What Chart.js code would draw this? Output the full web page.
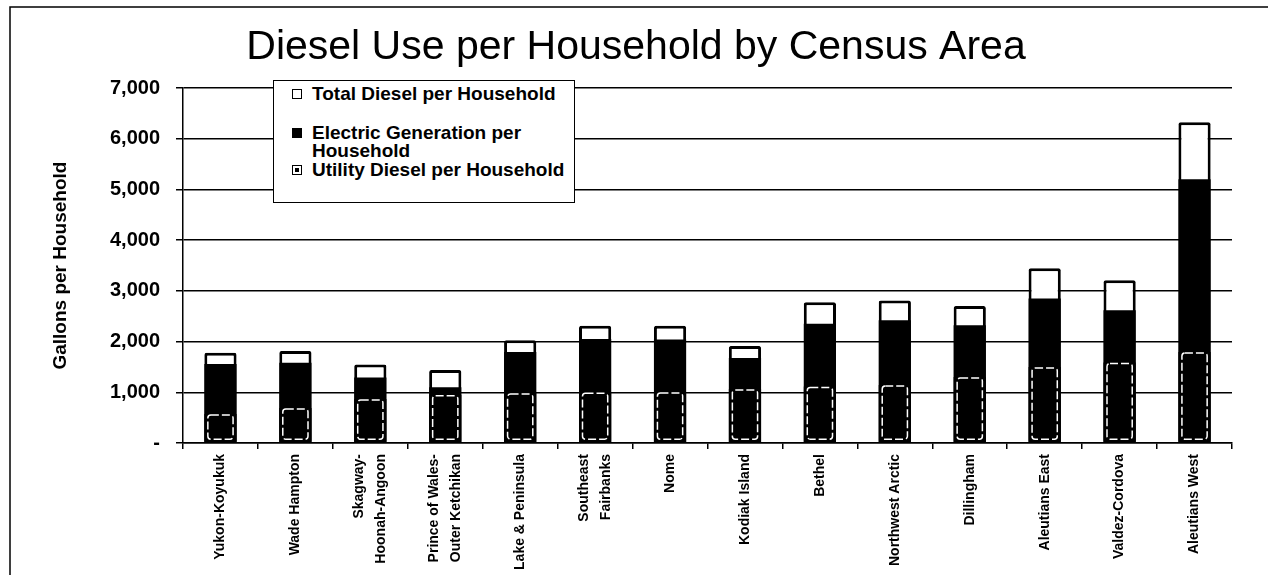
<!DOCTYPE html>
<html>
<head>
<meta charset="utf-8">
<script src="https://cdn.jsdelivr.net/npm/chart.js@4.4.1/dist/chart.umd.min.js"></script>
<style>
    body { margin: 0; background: #fff; }
    #wrap { position: relative; width: 1268px; height: 575px; }
    #legend {
        position: absolute; left: 273px; top: 80px; width: 300px; height: 121px;
        border: 1.5px solid #000; background: #fff;
        font: bold 19px 'Liberation Sans', Arial, sans-serif; color: #000;
    }
    #legend .row { position: absolute; left: 38px; line-height: 18px; white-space: nowrap; }
    #legend .box { position: absolute; left: -20px; top: 4px; width: 8px; height: 8px; border: 1.5px solid #000; background: #fff; }
    #legend .box.filled { background: #000; }
    #legend .box.inner::after { content: ''; position: absolute; left: 2px; top: 2px; width: 4px; height: 4px; background: #000; }
</style>
</head>
<body>
<div id="wrap">
    <canvas id="chart"></canvas>
    <div id="legend">
        <div class="row" style="top:4px"><span class="box"></span>Total Diesel per Household</div>
        <div class="row" style="top:43px"><span class="box filled"></span>Electric Generation per<br>Household</div>
        <div class="row" style="top:80px"><span class="box inner"></span>Utility Diesel per Household</div>
    </div>
</div>
<script>
// Datos (galones por hogar)
const censusAreas = [
    'Yukon-Koyukuk', 'Wade Hampton', ['Skagway-', 'Hoonah-Angoon'], ['Prince of Wales-', 'Outer Ketchikan'],
    'Lake & Peninsula', ['Southeast', 'Fairbanks'], 'Nome', 'Kodiak Island', 'Bethel',
    'Northwest Arctic', 'Dillingham', 'Aleutians East', 'Valdez-Cordova', 'Aleutians West'
];
const totalDiesel = [1780, 1815, 1550, 1440, 2025, 2315, 2315, 1915, 2778, 2812, 2700, 3445, 3208, 6325];
const electricGeneration = [1558, 1585, 1290, 1100, 1795, 2050, 2040, 1677, 2350, 2420, 2323, 2851, 2620, 5200];
const utilityDiesel = [570, 690, 870, 950, 985, 1000, 1005, 1063, 1115, 1143, 1300, 1500, 1590, 1795];
const yTicks = [0, 1000, 2000, 3000, 4000, 5000, 6000, 7000];

const sansFamily = "'Liberation Sans', Arial, sans-serif";

/**
 * Marco exterior (líneas izquierda y superior)
 */
const framePlugin = {
    id: 'frame',
    beforeDraw(chart) {
        const ctx = chart.ctx;
        ctx.save();
        ctx.strokeStyle = '#000';
        ctx.lineWidth = 1.5;
        ctx.beginPath();
        ctx.moveTo(10, chart.height);
        ctx.lineTo(10, 7);
        ctx.lineTo(chart.width, 7);
        ctx.stroke();
        ctx.restore();
    }
};

/**
 * Centra las etiquetas de varias líneas sobre su marca del eje X
 */
const centerMultiline = {
    id: 'centerMultiline',
    beforeDraw(chart) {
        const scale = chart.scales.x;
        scale.getLabelItems(chart.chartArea).forEach(function(item) {
            if (Array.isArray(item.label) && !item._centered) {
                item.textOffset -= (item.label.length - 1) * item.font.lineHeight / 2;
                item._centered = true;
            }
        });
    }
};

/**
 * Contorno discontinuo blanco para la serie de diésel de servicios
 */
const dashedOutline = {
    id: 'dashedOutline',
    afterDatasetsDraw(chart) {
        const meta = chart.getDatasetMeta(2);
        const ctx = chart.ctx;
        ctx.save();
        ctx.strokeStyle = '#fff';
        ctx.lineWidth = 1.5;
        ctx.setLineDash([8, 3]);
        meta.data.forEach(function(bar) {
            const p = bar.getProps(['x', 'y', 'base', 'width'], true);
            const left = p.x - p.width / 2 + 3.5;
            const w = p.width - 7;
            const top = p.y + 1;
            const h = p.base - 3 - top;
            ctx.beginPath();
            ctx.roundRect(left, top, w, h, 3);
            ctx.stroke();
        });
        ctx.restore();
    }
};

const ctx = document.getElementById('chart').getContext('2d');
new Chart(ctx, {
    type: 'bar',
    data: {
        labels: censusAreas,
        datasets: [{
            label: 'Total Diesel per Household',
            data: totalDiesel,
            backgroundColor: '#fff',
            borderColor: '#000',
            borderWidth: 3,
            borderRadius: 2,
            borderSkipped: false,
            order: 3
        }, {
            label: 'Electric Generation per Household',
            data: electricGeneration,
            backgroundColor: '#000',
            borderWidth: 0,
            order: 2
        }, {
            label: 'Utility Diesel per Household',
            data: utilityDiesel,
            backgroundColor: '#000',
            borderWidth: 0,
            order: 1
        }]
    },
    options: {
        responsive: true,
        maintainAspectRatio: false,
        animation: false,
        layout: { padding: { left: 40, right: 36, top: 0, bottom: 0 } },
        datasets: {
            bar: { categoryPercentage: 1, barPercentage: 0.43 }
        },
        plugins: {
            legend: { display: false },
            tooltip: { enabled: false },
            title: {
                display: true,
                text: 'Diesel Use per Household by Census Area',
                color: '#000',
                font: { family: sansFamily, size: 41, weight: 'normal', lineHeight: 1.1 },
                padding: { top: 25, bottom: 18 }
            }
        },
        scales: {
            x: {
                stacked: true,
                grid: { drawOnChartArea: false, drawTicks: true, tickLength: 6, color: '#000', lineWidth: 1.5 },
                border: { display: true, color: '#000', width: 1.5 },
                ticks: {
                    autoSkip: false,
                    maxRotation: 90,
                    minRotation: 90,
                    padding: 5,
                    color: '#000',
                    font: { family: sansFamily, size: 14, weight: 'bold', lineHeight: 1.6 }
                },
                afterFit(scale) { scale.height = 132; }
            },
            y: {
                stacked: false,
                min: 0,
                max: 7000,
                afterBuildTicks(scale) { scale.ticks = yTicks.map(v => ({ value: v })); },
                grid: { color: '#000', lineWidth: 1.5, drawTicks: true, tickLength: 7, tickColor: '#000' },
                border: { display: true, color: '#000', width: 1.5 },
                ticks: {
                    padding: 16,
                    color: '#000',
                    font: { family: sansFamily, size: 20, weight: 'bold' },
                    callback: function(value) {
                        return value === 0 ? '-' : value.toLocaleString('en-US');
                    }
                },
                title: {
                    display: true,
                    text: 'Gallons per Household',
                    color: '#000',
                    font: { family: sansFamily, size: 19, weight: 'bold' },
                    padding: { top: 9, bottom: 0 }
                },
                afterFit(scale) { scale.width = 143; }
            }
        }
    },
    plugins: [framePlugin, centerMultiline, dashedOutline]
});
</script>
</body>
</html>
